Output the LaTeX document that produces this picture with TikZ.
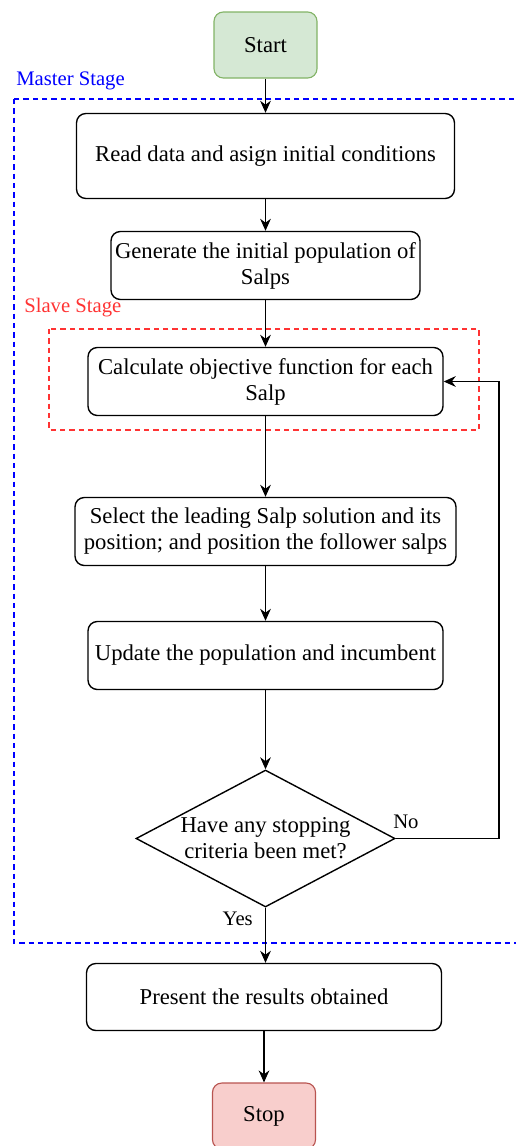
\documentclass[tikz,border=0pt]{standalone}
\usepackage{fontspec}
\setmainfont{Liberation Serif}
\usetikzlibrary{arrows.meta,shapes.geometric}
\definecolor{startfill}{HTML}{D5E8D4}
\definecolor{startdraw}{HTML}{82B366}
\definecolor{stopfill}{HTML}{F8CECC}
\definecolor{stopdraw}{HTML}{B85450}
\definecolor{masterblue}{HTML}{0000FF}
\definecolor{slavered}{HTML}{FF3333}
\tikzset{
  box/.style={draw=black, line width=1.05pt, rounded corners=7pt, align=center, inner sep=0pt, font=\fontsize{17}{19.5}\selectfont},
  terminal/.style={box, line width=0.85pt},
  dec/.style={draw=black, line width=1.05pt, diamond, aspect=1.9, inner sep=0pt, align=center, font=\fontsize{17}{19.5}\selectfont},
  arr/.style={-{Stealth[length=9pt,width=8pt]}, line width=1.05pt},
  lbl/.style={font=\fontsize{15.5}{17}\selectfont, inner sep=0pt},
  stage/.style={dash pattern=on 4pt off 3pt, line width=0.9pt}
}
\begin{document}
\begin{tikzpicture}[x=0.75pt,y=-0.75pt]
\useasboundingbox (0,0) rectangle (516,1146);
\clip (0,0) rectangle (516,1146);
% stage frames
\draw[stage, masterblue] (14,99) rectangle (540,943);
\node[lbl, text=masterblue, anchor=west] (mlabel) at (16,81) {Master Stage};
\draw[stage, slavered] (49,329) rectangle (479,430);
\node[lbl, text=slavered, anchor=west] (slabel) at (24,308) {Slave Stage};
% nodes
\node[terminal, fill=startfill, draw=startdraw, minimum width=77.25pt, minimum height=49.5pt] (start) at (265.5,45) {Start};
\node[box, minimum width=283.5pt, minimum height=63.75pt] (read) at (265.5,156) {Read data and asign initial conditions};
\node[box, minimum width=231.75pt, minimum height=51pt] (gen) at (265.5,265.5) {Generate the initial population of\\Salps};
\node[box, minimum width=266.25pt, minimum height=51pt] (calc) at (265.5,381.5) {Calculate objective function for each\\Salp};
\node[box, minimum width=285.75pt, minimum height=51pt] (sel) at (265.5,531.5) {Select the leading Salp solution and its\\position; and position the follower salps};
\node[box, minimum width=266.25pt, minimum height=51pt] (upd) at (265.5,655.5) {Update the population and incumbent};
\node[dec, minimum width=194.25pt, minimum height=102.75pt] (dcs) at (265.5,838.5) {Have any stopping\\criteria been met?};
\node[box, minimum width=266.25pt, minimum height=50.25pt] (res) at (264,997) {Present the results obtained};
\node[terminal, fill=stopfill, draw=stopdraw, minimum width=77.25pt, minimum height=49.5pt] (stop) at (264,1116) {Stop};
% connectors
\draw[arr] (start) -- (read);
\draw[arr] (read) -- (gen);
\draw[arr] (gen) -- (calc);
\draw[arr] (calc) -- (sel);
\draw[arr] (sel) -- (upd);
\draw[arr] (upd) -- (dcs);
\draw[arr] (dcs.south) -- (dcs.south |- res.north);
\draw[arr] (res) -- (stop);
\coordinate (c1) at (499,838.5);
\coordinate (c2) at (499,381.5);
\draw[arr] (dcs.east) -- (c1) -- (c2) -- (calc.east);
\node[lbl, anchor=west] (no) at (393,822) {No};
\node[lbl, anchor=east] (yes) at (253,919) {Yes};
\end{tikzpicture}
\end{document}
